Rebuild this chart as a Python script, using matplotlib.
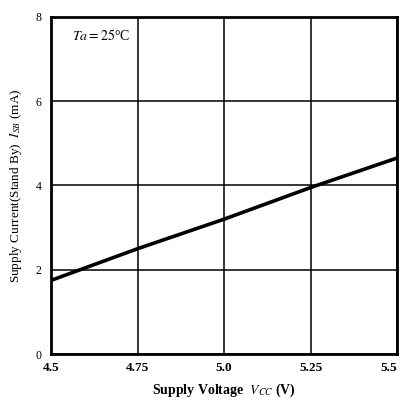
import matplotlib.pyplot as plt

# data
vcc = [4.5, 4.75, 5.0, 5.25, 5.5]
isb = [1.75, 2.5, 3.2, 3.95, 4.65]
xticks = [4.5, 4.75, 5.0, 5.25, 5.5]
xlabels = ['4.5', '4.75', '5.0', '5.25', '5.5']
yticks = [0, 2, 4, 6, 8]

plt.rcParams['font.family'] = ['Liberation Serif', 'DejaVu Serif']
plt.rcParams['mathtext.fontset'] = 'stix'

fig = plt.figure(figsize=(4.03, 4.01), dpi=100)
ax = fig.add_axes([0.127, 0.117, 0.858, 0.841])

ax.plot(vcc, isb, color='black', lw=2.6, solid_capstyle='butt')

ax.set_xlim(4.5, 5.5)
ax.set_ylim(0, 8)
ax.set_xticks(xticks)
ax.set_xticklabels(xlabels, fontsize=9.5, fontweight='bold')
ax.get_xticklabels()[-1].set_horizontalalignment('right')
ax.get_xticklabels()[-1].set_x(5.515)
ax.set_yticks(yticks)
ax.set_yticklabels([str(v) for v in yticks], fontsize=8.5)
ax.tick_params(length=0, pad=6)
ax.tick_params(axis='y', pad=7)
ax.grid(True, color='black', lw=1.1)
for s in ax.spines.values():
    s.set_linewidth(2)

ax.text(4.56, 7.55, r'$Ta = 25$°C', fontsize=10, va='center', ha='left')

ax.set_xlabel(r'Supply Voltage  $V_{CC}$ (V)', fontsize=10, fontweight='bold', labelpad=5)
ax.set_ylabel(r'Supply Current(Stand By)  $I_{SB}$ (mA)', fontsize=9.5, labelpad=8)

fig.savefig('out.png', dpi=100)
